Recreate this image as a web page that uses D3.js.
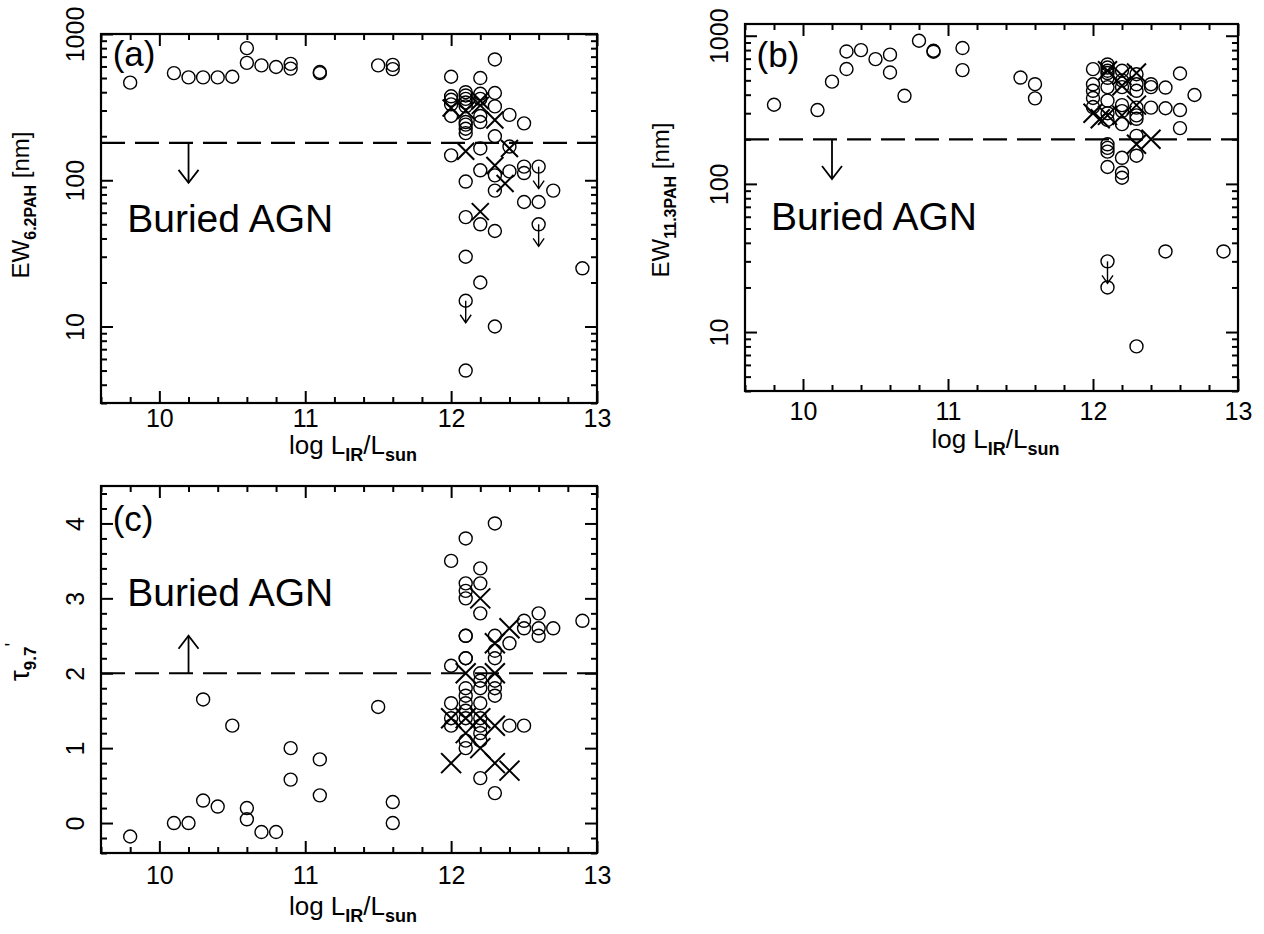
<!DOCTYPE html>
<html>
<head>
<meta charset="utf-8">
<script src="https://cdn.jsdelivr.net/npm/d3@7"></script>
<style>
  body { margin: 0; background: #fff; }
  svg { display: block; font-family: "Liberation Sans", Arial, sans-serif; }
</style>
</head>
<body>
<svg id="fig" width="1264" height="934"></svg>
<script>
// ---------- shared x axis: log L_IR / L_sun ----------
const xDomain = [9.6, 13];
const xMajorTicks = [10, 11, 12, 13];
const xTickLabels = ["10", "11", "12", "13"];

// ---------- (a) EW of the 6.2 um PAH feature [nm] ----------
const ew62Circles = [
  [9.8, 465], [10.1, 540], [10.2, 505], [10.3, 505], [10.4, 505], [10.5, 510],
  [10.6, 800], [10.6, 635], [10.7, 610], [10.8, 595], [10.9, 625], [10.9, 580],
  [11.1, 550], [11.1, 540], [11.5, 610], [11.6, 615], [11.6, 575],
  [12.0, 510], [12.0, 375], [12.0, 355], [12.0, 330], [12.0, 275], [12.0, 148],
  [12.1, 400], [12.1, 380], [12.1, 360], [12.1, 340], [12.1, 320], [12.1, 250],
  [12.1, 240], [12.1, 225], [12.1, 210], [12.1, 98], [12.1, 56], [12.1, 30], [12.1, 5],
  [12.2, 500], [12.2, 390], [12.2, 360], [12.2, 275], [12.2, 250], [12.2, 165],
  [12.2, 117], [12.2, 50], [12.2, 20],
  [12.3, 670], [12.3, 395], [12.3, 320], [12.3, 200], [12.3, 108], [12.3, 85],
  [12.3, 45], [12.3, 10],
  [12.4, 280], [12.4, 170], [12.4, 115],
  [12.5, 245], [12.5, 124], [12.5, 112], [12.5, 71],
  [12.6, 71], [12.7, 85], [12.9, 25]
];
const ew62Crosses = [
  [12.0, 312], [12.1, 300], [12.2, 350], [12.2, 325], [12.3, 258], [12.1, 158],
  [12.4, 165], [12.3, 126], [12.37, 95], [12.2, 61]
];
// upper limits (circle + downward arrow)
const ew62Limits = [[12.1, 15], [12.6, 124], [12.6, 50]];

// ---------- (b) EW of the 11.3 um PAH feature [nm] ----------
const ew113Circles = [
  [9.8, 342], [10.1, 315], [10.2, 490], [10.3, 783], [10.3, 596], [10.4, 800],
  [10.5, 695], [10.6, 745], [10.6, 565], [10.7, 393], [10.8, 925], [10.9, 792],
  [10.9, 780], [11.1, 826], [11.1, 586], [11.5, 522], [11.6, 471], [11.6, 378],
  [12.0, 595], [12.0, 470], [12.0, 425], [12.0, 380], [12.0, 330],
  [12.1, 640], [12.1, 610], [12.1, 580], [12.1, 560], [12.1, 520], [12.1, 450],
  [12.1, 365], [12.1, 300], [12.1, 270], [12.1, 185], [12.1, 175], [12.1, 165],
  [12.1, 130], [12.1, 20],
  [12.2, 580], [12.2, 500], [12.2, 450], [12.2, 340], [12.2, 310], [12.2, 253],
  [12.2, 150], [12.2, 119], [12.2, 110],
  [12.3, 550], [12.3, 470], [12.3, 425], [12.3, 327], [12.3, 290], [12.3, 275],
  [12.3, 211], [12.3, 155], [12.3, 8],
  [12.4, 471], [12.4, 450], [12.4, 327],
  [12.5, 447], [12.5, 324], [12.5, 35],
  [12.6, 556], [12.6, 315], [12.6, 238],
  [12.7, 398], [12.9, 35]
];
const ew113Crosses = [
  [12.0, 300], [12.05, 275], [12.1, 290], [12.1, 580], [12.2, 540], [12.2, 460],
  [12.2, 290], [12.3, 560], [12.3, 340], [12.3, 185], [12.4, 200]
];
const ew113Limits = [[12.1, 30]];

// ---------- (c) optical depth of the 9.7 um silicate feature ----------
const tauCircles = [
  [9.8, -0.18], [10.1, 0.0], [10.2, 0.0], [10.3, 1.65], [10.3, 0.3], [10.4, 0.22],
  [10.5, 1.3], [10.6, 0.2], [10.6, 0.05], [10.7, -0.12], [10.8, -0.12], [10.9, 1.0],
  [10.9, 0.58], [11.1, 0.85], [11.1, 0.37], [11.5, 1.55], [11.6, 0.28], [11.6, 0.0],
  [12.0, 3.5], [12.0, 2.1], [12.0, 1.6], [12.0, 1.4], [12.0, 1.3],
  [12.1, 3.8], [12.1, 3.2], [12.1, 3.1], [12.1, 3.0], [12.1, 2.5], [12.1, 2.5],
  [12.1, 2.2], [12.1, 2.2], [12.1, 1.8], [12.1, 1.7], [12.1, 1.6], [12.1, 1.5],
  [12.1, 1.4], [12.1, 1.1], [12.1, 1.0],
  [12.2, 3.4], [12.2, 3.2], [12.2, 2.8], [12.2, 2.0], [12.2, 1.9], [12.2, 1.8],
  [12.2, 1.6], [12.2, 1.4], [12.2, 1.3], [12.2, 1.2], [12.2, 1.1], [12.2, 0.6],
  [12.3, 4.0], [12.3, 2.5], [12.3, 2.3], [12.3, 2.2], [12.3, 1.9], [12.3, 1.8],
  [12.3, 1.7], [12.3, 0.4],
  [12.4, 2.4], [12.4, 1.3],
  [12.5, 2.7], [12.5, 2.6], [12.5, 1.3],
  [12.6, 2.8], [12.6, 2.6], [12.6, 2.5],
  [12.7, 2.6], [12.9, 2.7]
];
const tauCrosses = [
  [12.2, 3.0], [12.4, 2.6], [12.3, 2.4], [12.1, 2.0], [12.3, 2.0], [12.0, 1.4],
  [12.1, 1.4], [12.2, 1.4], [12.3, 1.3], [12.1, 1.2], [12.2, 1.0], [12.0, 0.8],
  [12.3, 0.8], [12.4, 0.7]
];

// ---------- y tick labels ----------
const ewMajorTicks = [10, 100, 1000];
const ewTickLabels = ["10", "100", "1000"];
const tauMajorTicks = [0, 1, 2, 3, 4];
const tauTickLabels = ["0", "1", "2", "3", "4"];

// ---------- buried-AGN thresholds ----------
const ew62Threshold = 180;
const ew113Threshold = 200;
const tauThreshold = 2;

const svg = d3.select("#fig");
const INK = "#000";

function logMinorTicks(domain) {
  const out = [];
  [1, 10, 100, 1000].forEach(dec => {
    for (let k = 1; k <= 9; k++) {
      const v = k * dec;
      if (v >= domain[0] && v <= domain[1]) out.push(v);
    }
  });
  return out;
}

function crossPath(s) {
  return `M${-s},${-s}L${s},${s}M${-s},${s}L${s},${-s}`;
}

function arrow(g, x, y1, y2, hw, hl, width) {
  const dir = y2 > y1 ? 1 : -1;
  g.append("line").attr("x1", x).attr("x2", x).attr("y1", y1).attr("y2", y2)
    .attr("stroke", INK).attr("stroke-width", width);
  g.append("polyline")
    .attr("points", `${x - hw},${y2 - dir * hl} ${x},${y2} ${x + hw},${y2 - dir * hl}`)
    .attr("fill", "none").attr("stroke", INK).attr("stroke-width", width);
}

// ticks on one side of the frame: short minor ticks, long major ticks, pointing inward
function sideAxis(g, axis, transform, minor, major, labels) {
  g.append("g").attr("transform", transform)
    .call(axis.tickValues(minor).tickSizeInner(-6).tickSizeOuter(0).tickFormat(""))
    .call(s => s.select(".domain").remove())
    .selectAll("line").attr("stroke", INK).attr("stroke-width", 2);
  const a = g.append("g").attr("transform", transform)
    .call(axis.tickValues(major).tickSizeInner(-12).tickSizeOuter(0)
      .tickFormat(labels ? (d, i) => labels[i] : ""))
    .call(s => s.select(".domain").remove());
  a.attr("font-family", null).attr("font-size", null);
  a.selectAll("line").attr("stroke", INK).attr("stroke-width", 2);
  a.selectAll("text").attr("fill", INK).style("font-size", "25px");
  return a;
}

function drawPanel(p) {
  const g = svg.append("g");
  const x = d3.scaleLinear().domain(xDomain).range([p.left, p.right]);
  const y = (p.log ? d3.scaleLog() : d3.scaleLinear())
    .domain(p.yDomain).range([p.bottom, p.top]);

  const xMinor = d3.range(48, 66).map(i => +(i * 0.2).toFixed(1))
    .filter(v => !xMajorTicks.includes(v));
  const yMinor = p.log
    ? logMinorTicks(p.yDomain).filter(v => !p.yMajor.includes(v))
    : d3.range(-2, 23).map(i => +(i * 0.2).toFixed(1))
        .filter(v => v >= p.yDomain[0] && v <= p.yDomain[1] && !p.yMajor.includes(v));

  const bottomAx = sideAxis(g, d3.axisBottom(x), `translate(0,${p.bottom})`, xMinor, xMajorTicks, xTickLabels);
  sideAxis(g, d3.axisTop(x), `translate(0,${p.top})`, xMinor, xMajorTicks, null);
  const leftAx = sideAxis(g, d3.axisLeft(y), `translate(${p.left},0)`, yMinor, p.yMajor, p.yLabels);
  sideAxis(g, d3.axisRight(y), `translate(${p.right},0)`, yMinor, p.yMajor, null);

  // x tick labels: baseline placed so the digits sit just under the frame
  bottomAx.selectAll("text").attr("y", p.xLabelDy + 9).attr("dy", null);
  leftAx.selectAll("text")
    .attr("x", null).attr("dy", null).attr("text-anchor", "middle")
    .attr("dominant-baseline", "central")
    .attr("transform", `translate(${-p.yLabelDx},0) rotate(-90)`);

  // frame
  g.append("rect").attr("x", p.left).attr("y", p.top)
    .attr("width", p.right - p.left).attr("height", p.bottom - p.top)
    .attr("fill", "none").attr("stroke", INK).attr("stroke-width", 2.2);

  // threshold line with its direction arrow
  g.append("line").attr("x1", p.left).attr("x2", p.right)
    .attr("y1", y(p.threshold)).attr("y2", y(p.threshold))
    .attr("stroke", INK).attr("stroke-width", 2.2).attr("stroke-dasharray", "24 10");
  arrow(g, x(10.2), y(p.threshold), y(p.arrowTo), 10, 13, 1.8);

  // annotations
  g.append("text").attr("x", x(9.68)).attr("y", y(p.tagY))
    .attr("font-size", 35).attr("fill", INK).text(p.tag);
  g.append("text").attr("x", x(9.78)).attr("y", y(p.agnY))
    .attr("font-size", 39).attr("fill", INK).text("Buried AGN");

  // data
  g.append("g").selectAll("circle").data(p.circles).join("circle")
    .attr("cx", d => x(d[0])).attr("cy", d => y(d[1])).attr("r", 6.5)
    .attr("fill", "none").attr("stroke", INK).attr("stroke-width", 1.4);
  g.append("g").selectAll("path").data(p.crosses).join("path")
    .attr("transform", d => `translate(${x(d[0])},${y(d[1])})`)
    .attr("d", crossPath(p.crossSize))
    .attr("fill", "none").attr("stroke", INK).attr("stroke-width", 2);
  p.limits.forEach(d => {
    g.append("circle").attr("cx", x(d[0])).attr("cy", y(d[1])).attr("r", 6.5)
      .attr("fill", "none").attr("stroke", INK).attr("stroke-width", 1.4);
    arrow(g, x(d[0]), y(d[1]), y(d[1]) + 22, 5.5, 8, 1.4);
  });

  // x title
  const cx = (p.left + p.right) / 2 + 4;
  const xt = g.append("text").attr("x", cx).attr("y", p.bottom + p.xTitleDy)
    .attr("text-anchor", "middle").attr("font-size", 26).attr("fill", INK);
  xt.append("tspan").text("log L");
  xt.append("tspan").attr("dy", 7).attr("font-size", 18).attr("font-weight", "bold").text("IR");
  xt.append("tspan").attr("dy", -7).text("/L");
  xt.append("tspan").attr("dy", 7).attr("font-size", 18).attr("font-weight", "bold").text("sun");

  // y title
  const yt = g.append("text")
    .attr("transform", `translate(${p.left - p.yTitleDx},${p.yTitleY}) rotate(-90)`)
    .attr("text-anchor", "middle").attr("font-size", 24).attr("fill", INK);
  p.yTitle(yt);
}

drawPanel({
  left: 101, right: 597, top: 34, bottom: 403,
  log: true, yDomain: [3, 1000], yMajor: ewMajorTicks, yLabels: ewTickLabels,
  threshold: ew62Threshold, arrowTo: 96,
  tag: "(a)", tagY: 600, agnY: 44,
  circles: ew62Circles, crosses: ew62Crosses, limits: ew62Limits, crossSize: 8.5,
  xLabelDy: 15, xTitleDy: 51, yLabelDx: 26, yTitleDx: 72, yTitleY: 205,
  yTitle: t => {
    t.append("tspan").text("EW");
    t.append("tspan").attr("dy", 7).attr("font-size", 16).attr("font-weight", "bold").text("6.2PAH");
    t.append("tspan").attr("dy", -7).text(" [nm]");
  }
});

drawPanel({
  left: 745, right: 1238, top: 24, bottom: 391,
  log: true, yDomain: [4, 1200], yMajor: ewMajorTicks, yLabels: ewTickLabels,
  threshold: ew113Threshold, arrowTo: 108,
  tag: "(b)", tagY: 617, agnY: 49,
  circles: ew113Circles, crosses: ew113Crosses, limits: ew113Limits, crossSize: 9.5,
  xLabelDy: 20, xTitleDy: 57, yLabelDx: 26, yTitleDx: 76, yTitleY: 200,
  yTitle: t => {
    t.append("tspan").text("EW");
    t.append("tspan").attr("dy", 7).attr("font-size", 16).attr("font-weight", "bold").text("11.3PAH");
    t.append("tspan").attr("dy", -7).text(" [nm]");
  }
});

drawPanel({
  left: 101, right: 597, top: 486, bottom: 853,
  log: false, yDomain: [-0.4, 4.5], yMajor: tauMajorTicks, yLabels: tauTickLabels,
  threshold: tauThreshold, arrowTo: 2.5,
  tag: "(c)", tagY: 3.9, agnY: 2.9,
  circles: tauCircles, crosses: tauCrosses, limits: [], crossSize: 10,
  xLabelDy: 22, xTitleDy: 62, yLabelDx: 26, yTitleDx: 72, yTitleY: 662,
  yTitle: t => {
    t.append("tspan").attr("font-size", 28).text("τ");
    t.append("tspan").attr("dy", 7).attr("font-size", 17).attr("font-weight", "bold").text("9.7");
    t.append("tspan").attr("dy", -17).attr("font-size", 20).text("'");
  }
});
</script>
</body>
</html>
